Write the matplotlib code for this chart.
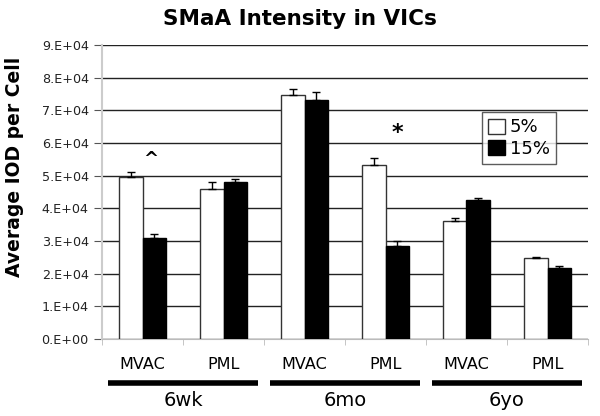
import numpy as np
from matplotlib import pyplot as plt
from matplotlib.lines import Line2D

categories = ['MVAC', 'PML', 'MVAC', 'PML', 'MVAC', 'PML']
groups = ['6wk', '6mo', '6yo']
series = ['5%', '15%']

vals_5 = [4.97e4, 4.60e4, 7.46e4, 5.32e4, 3.62e4, 2.47e4]
vals_15 = [3.10e4, 4.81e4, 7.31e4, 2.85e4, 4.26e4, 2.18e4]
err_5 = [0.15e4, 0.20e4, 0.18e4, 0.21e4, 0.09e4, 0.05e4]
err_15 = [0.12e4, 0.09e4, 0.24e4, 0.15e4, 0.06e4, 0.04e4]

yticks = np.arange(0, 9.01e4, 1e4)
ytick_labels = ['%d.E+0%d' % (v // 1e4, 0 if v == 0 else 4) for v in yticks]

fig = plt.figure(figsize=(6, 4.16), dpi=100)
ax = fig.add_axes([102 / 600, 1 - 339 / 416, 486 / 600, 294 / 416])

x = np.arange(len(categories))
w = 0.29
ax.bar(x - w / 2, vals_5, w, color='white', edgecolor='#333333', linewidth=1,
       yerr=[np.zeros(6), err_5], error_kw=dict(ecolor='black', capsize=3, elinewidth=1, capthick=1),
       label=series[0], zorder=3)
ax.bar(x + w / 2, vals_15, w, color='black', edgecolor='black', linewidth=1,
       yerr=[np.zeros(6), err_15], error_kw=dict(ecolor='black', capsize=3, elinewidth=1, capthick=1),
       label=series[1], zorder=3)

ax.set_xlim(-0.5, 5.5)
ax.set_ylim(0, 9e4)
ax.set_yticks(yticks)
ax.set_yticklabels(ytick_labels, fontsize=9.2, color='#222222')
ax.yaxis.grid(True, color='#222222', linewidth=1)
ax.set_axisbelow(True)

ax.set_xticks(x)
ax.set_xticklabels(categories, fontsize=11.5)
ax.tick_params(axis='x', length=0, pad=13)
ax.set_xticks(np.arange(-0.5, 6, 1), minor=True)
ax.tick_params(axis='x', which='minor', length=4, color='#bbbbbb')
ax.tick_params(axis='y', length=6, color='#555555')

for s in ['top', 'right']:
    ax.spines[s].set_visible(False)
ax.spines['left'].set_color('#cccccc')
ax.spines['left'].set_linewidth(1.5)
ax.spines['bottom'].set_color('#bbbbbb')

# group bars and labels below axis
trans = ax.get_xaxis_transform()
for i, g in enumerate(groups):
    x0 = 2 * i - 0.5 + 0.07
    x1 = 2 * i + 1.5 - 0.07
    ax.add_line(Line2D([x0, x1], [-0.15, -0.15], transform=trans, color='black',
                       linewidth=4, clip_on=False, solid_capstyle='butt'))
    ax.text(2 * i + 0.5, -0.21, g, transform=trans, ha='center', va='center', fontsize=14)

ax.text(0.1, 5.5e4, '^', ha='center', va='center', fontsize=13, fontweight='bold')
ax.text(3.15, 6.3e4, '*', ha='center', va='center', fontsize=16, fontweight='bold')

fig.text(15 / 600, 1 - 167 / 416, 'Average IOD per Cell', rotation=90, ha='center', va='center',
         fontsize=13.5, fontweight='bold')
fig.text(0.5, 0.955, 'SMaA Intensity in VICs', ha='center', va='center',
         fontsize=15.5, fontweight='bold')

leg = ax.legend(loc='upper left', bbox_to_anchor=((482 - 102) / 486, 1 - (112 - 45) / 294),
                fontsize=13, frameon=True, fancybox=False, edgecolor='#333333',
                handlelength=0.9, handleheight=0.9, handletextpad=0.3, borderpad=0.35,
                labelspacing=0.2, borderaxespad=0)
leg.get_frame().set_linewidth(1)

fig.savefig('out.png', dpi=100)
